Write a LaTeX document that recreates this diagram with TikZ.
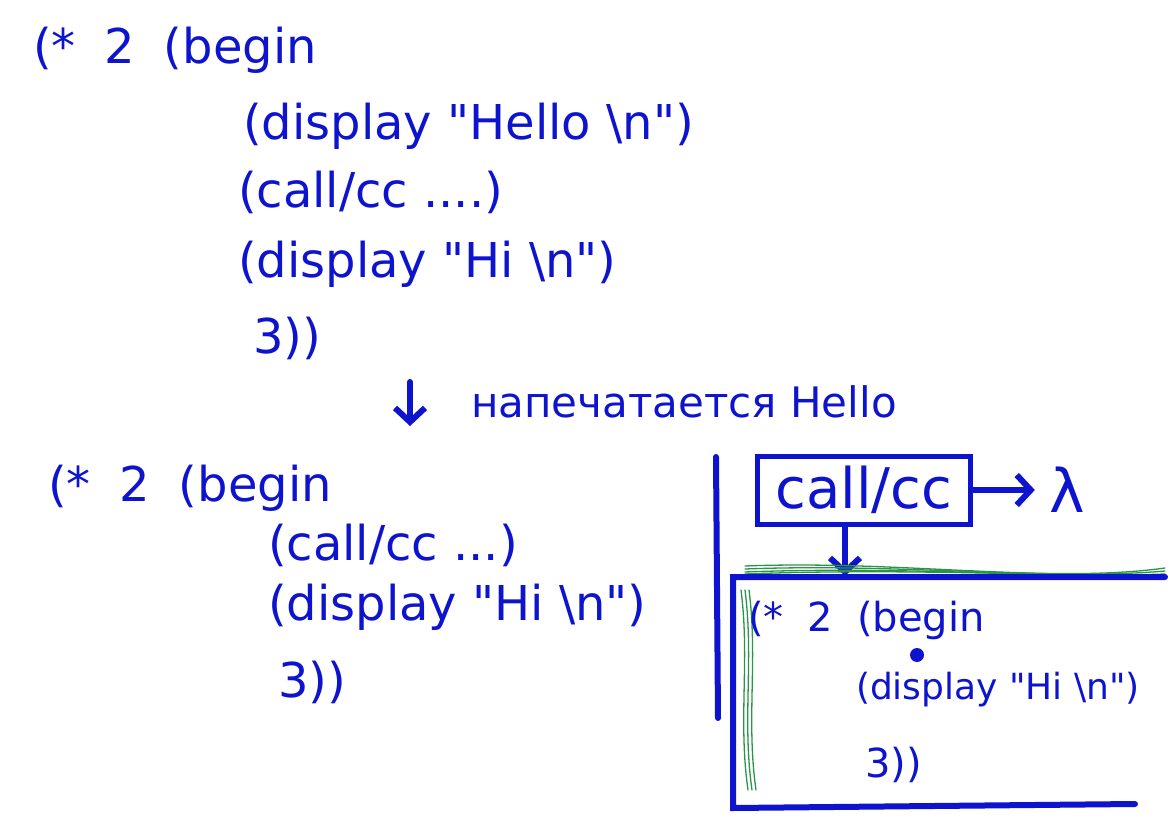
\documentclass[tikz,border=0pt]{standalone}
\usepackage{fontspec}
\setmainfont{DejaVu Sans}[Ligatures=TeXOff]
\usetikzlibrary{positioning,arrows.meta}
\definecolor{pen}{RGB}{14,20,205}
\definecolor{marker}{RGB}{40,150,70}

\begin{document}
\begin{tikzpicture}[x=1pt,y=-1pt,pen,line width=6pt,line cap=round,
  code/.style={anchor=west,inner sep=0pt,font=\fontsize{48}{52}\selectfont},
  smallcode/.style={code,font=\fontsize{40}{44}\selectfont},
  arr/.style={-{Straight Barb[length=14pt,width=30pt]}}]
 \def\xA{30}   % left edge of the first listing
 \def\xB{45}   % left edge of the second listing
 \def\xsep{716} % the vertical rule
 \def\gap{\hspace{0.6em}}
 \pgfmathsetmacro{\xin}{\xA+205}
 \useasboundingbox (0,0) rectangle (1168,824);

% first listing (before call/cc)
\node[code] (a1) at (\xA,50) {(*\gap2\gap(begin};
\node[code] (a2) at (\xin+5,126) {(display "Hello \textbackslash n")};
\node[code] (a3) at (\xin,192) {(call/cc ....)};
\node[code] (a4) at (\xin,264) {(display "Hi \textbackslash n")};
\node[code] (a5) at (\xin+15,338) {3))};

% what gets printed
\coordinate (stepA) at (410,382);
\coordinate (stepB) at (410,426);
\draw[arr] (stepA) -- (stepB);
\node[code,font=\fontsize{42}{46}\selectfont] (printed) at (468,402) {напечатается Hello};

% second listing (after call/cc)
\node[code] (b1) at (\xB,488) {(*\gap2\gap(begin};
\node[code] (b2) at (\xin+30,545) {(call/cc ...)};
\node[code] (b3) at (\xin+30,607) {(display "Hi \textbackslash n")};
\node[code] (b4) at (\xin+40,682) {3))};

% vertical rule
\draw (\xsep,457) -- (\xsep+2,718);

% the continuation
\node[draw,inner xsep=18pt,minimum height=68pt,line width=5pt,
      font=\fontsize{56}{60}\selectfont] (cc) at (864,490) {call/cc};
\node[font=\fontsize{60}{64}\selectfont,inner sep=2pt,right=72pt of cc] (lam) {λ};
\draw[arr,shorten >=10pt] (cc) -- (lam);
\coordinate (frametop) at (845,576);
\draw[arr] (cc.south -| frametop) -- (frametop);

% green marker under the frame
\begin{scope}[marker,line width=1.3pt]
 \foreach \dy in {-6,-3,0,2}
 \draw (745,572+\dy) .. controls (900,566+\dy) and (1050,578-\dy) .. (1165,574+\dy);
 \foreach \dx in {0,4,8}
 \draw (741+\dx,590) .. controls (750+\dx,660) and (738+\dx,720) .. (748+\dx,790);
\end{scope}

% frame round the rest of the computation
\draw (1165,577) -- (733,577) -- (733,808) -- (1135,804);

\node[smallcode] (c1) at (745,620) {(*\gap2\gap(begin};
\fill (917,655) circle (7pt);
\node[smallcode,font=\fontsize{36}{40}\selectfont] (c2) at (853,690) {(display "Hi \textbackslash n")};
\node[smallcode] (c3) at (862,765) {3))};
\end{tikzpicture}
\end{document}
